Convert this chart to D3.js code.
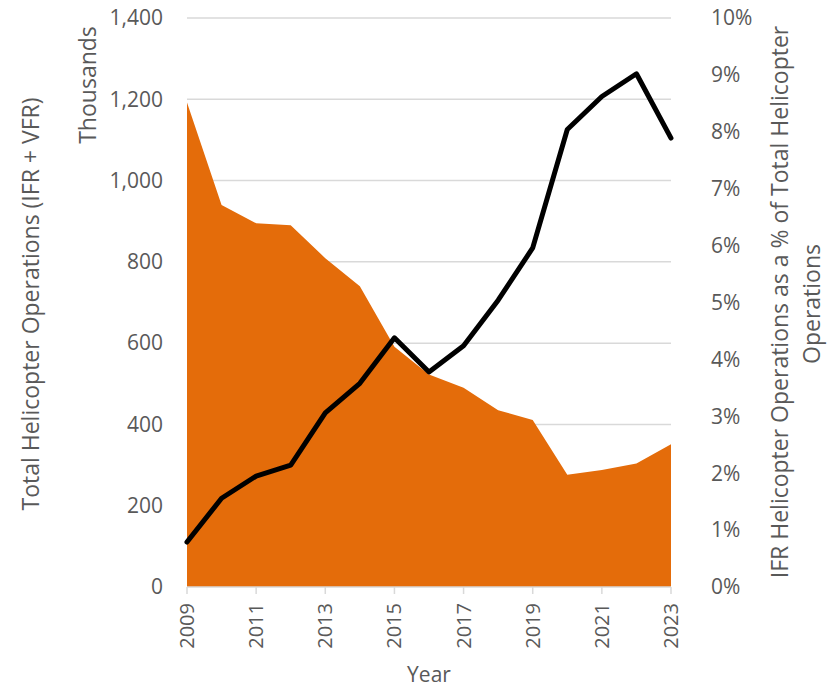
<!DOCTYPE html>
<html>
<head>
<meta charset="utf-8">
<script src="https://cdn.jsdelivr.net/npm/d3@7"></script>
<style>
body{margin:0;background:#fff;}
svg text{font-family:"Open Sans","Noto Sans",sans-serif;fill:#595959;}
</style>
</head>
<body>
<svg id="chart" width="827" height="687"></svg>
<script>
const years = [2009,2010,2011,2012,2013,2014,2015,2016,2017,2018,2019,2020,2021,2022,2023];
const totalOps = [1192,940,895,890,809,740,591,523,490,435,411,276,288,304,351];
const ifrPct = [0.79,1.56,1.95,2.14,3.06,3.58,4.38,3.78,4.24,5.04,5.96,8.04,8.62,9.02,7.89];
const leftTicks = [0,200,400,600,800,1000,1200,1400];
const rightTicks = [0,1,2,3,4,5,6,7,8,9,10];
const xTickYears = [2009,2011,2013,2015,2017,2019,2021,2023];

const svg = d3.select("#chart");
const m = {left:187, right:671, top:18, bottom:587};
const x = d3.scaleLinear().domain([2009,2023]).range([m.left,m.right]);
const yL = d3.scaleLinear().domain([0,1400]).range([m.bottom,m.top]);
const yR = d3.scaleLinear().domain([0,10]).range([m.bottom,m.top]);

// gridlines
svg.append("g").selectAll("line").data(leftTicks.filter(d=>d>0)).join("line")
  .attr("x1",m.left).attr("x2",m.right)
  .attr("y1",d=>yL(d)).attr("y2",d=>yL(d))
  .attr("stroke","#d9d9d9").attr("stroke-width",1.5);

// area
const area = d3.area().x((d,i)=>x(years[i])).y0(yL(0)).y1(d=>yL(d));
svg.append("path").datum(totalOps).attr("d",area).attr("fill","#E46C0A");

// x axis line
svg.append("line").attr("x1",m.left).attr("x2",m.right)
  .attr("y1",m.bottom).attr("y2",m.bottom).attr("stroke","#d9d9d9").attr("stroke-width",1.5);
svg.append("g").selectAll("line").data(xTickYears).join("line")
  .attr("x1",d=>x(d)).attr("x2",d=>x(d)).attr("y1",m.bottom).attr("y2",m.bottom+7)
  .attr("stroke","#d9d9d9").attr("stroke-width",1.5);

// line
const line = d3.line().x((d,i)=>x(years[i])).y(d=>yR(d));
svg.append("path").datum(ifrPct).attr("d",line).attr("fill","none")
  .attr("stroke","#000").attr("stroke-width",5).attr("stroke-linejoin","round").attr("stroke-linecap","round");

// left tick labels
svg.append("g").selectAll("text").data(leftTicks).join("text")
  .attr("x",163).attr("y",d=>yL(d)).attr("dy","0.35em")
  .attr("text-anchor","end").attr("font-size",21)
  .text(d=>d3.format(",")(d));

// right tick labels
svg.append("g").selectAll("text").data(rightTicks).join("text")
  .attr("x",711).attr("y",d=>yR(d)).attr("dy","0.35em")
  .attr("text-anchor","start").attr("font-size",21)
  .text(d=>d+"%");

// x tick labels
svg.append("g").selectAll("text").data(xTickYears).join("text")
  .attr("transform",d=>`translate(${x(d)+7},603) rotate(-90)`)
  .attr("text-anchor","end").attr("font-size",20)
  .text(d=>d);

// axis titles
svg.append("text").attr("transform","translate(39,304) rotate(-90)")
  .attr("text-anchor","middle").attr("font-size",23)
  .text("Total Helicopter Operations (IFR + VFR)");
svg.append("text").attr("transform","translate(96,85) rotate(-90)")
  .attr("text-anchor","middle").attr("font-size",23)
  .text("Thousands");
svg.append("text").attr("transform","translate(788,302) rotate(-90)")
  .attr("text-anchor","middle").attr("font-size",23)
  .text("IFR Helicopter Operations as a % of Total Helicopter");
svg.append("text").attr("transform","translate(820,304) rotate(-90)")
  .attr("text-anchor","middle").attr("font-size",23)
  .text("Operations");
svg.append("text").attr("x",(m.left+m.right)/2).attr("y",682)
  .attr("text-anchor","middle").attr("font-size",21)
  .text("Year");
</script>
</body>
</html>
